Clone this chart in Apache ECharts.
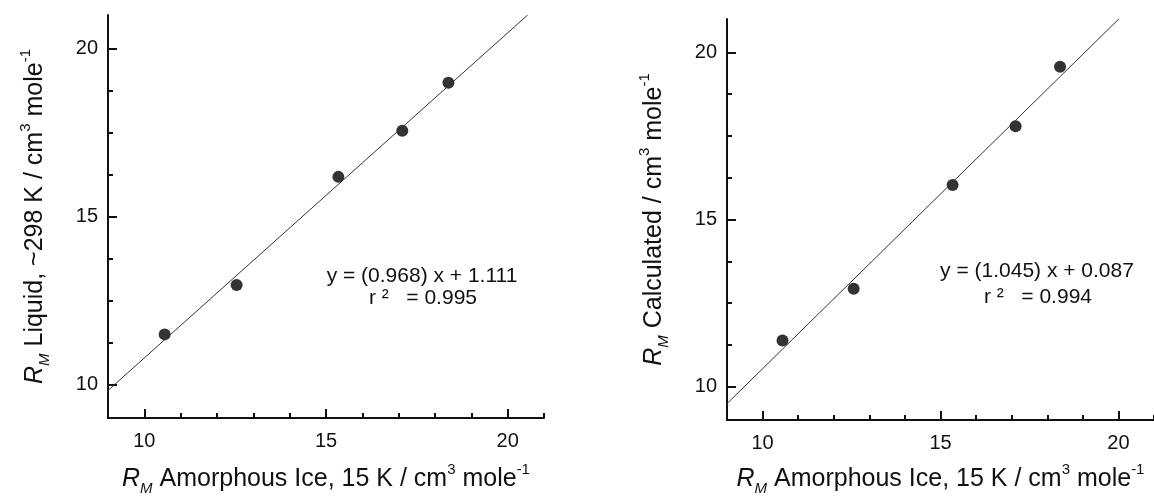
<!DOCTYPE html>
<html>
<head>
<meta charset="utf-8">
<script src="https://cdn.jsdelivr.net/npm/echarts@6/dist/echarts.min.js"></script>
<style>
  html, body { margin: 0; padding: 0; background: #fff; }
  #chart { width: 1154px; height: 501px; }
</style>
</head>
<body>
<div id="chart"></div>
<script>
// left panel: liquid vs amorphous ice
var leftX = [10.56, 12.54, 15.34, 17.10, 18.37];
var leftY = [11.49, 12.96, 16.18, 17.55, 18.98];
// right panel: calculated vs amorphous ice
var rightX = [10.56, 12.56, 15.34, 17.11, 18.36];
var rightY = [11.38, 12.93, 16.03, 17.79, 19.57];

// fitted lines, end points
var leftFit = [[9, 9.82], [20.55, 21]];
var rightFit = [[9, 9.49], [20.01, 21]];

var majorTicks = [10, 15, 20];
var xMinorTicks = [11, 12, 13, 14, 16, 17, 18, 19, 21];
var yMinorTicks = [11.25, 12.5, 13.75, 16.25, 17.5, 18.75];

var leftEq = ['y = (0.968) x + 1.111', 'r \u00b2   = 0.995'];
var rightEq = ['y = (1.045) x + 0.087', 'r \u00b2   = 0.994'];

var font = '"Liberation Sans", Arial, sans-serif';
var ink = '#111';

function pairs(xs, ys) {
    var out = [];
    for (var i = 0; i < xs.length; i++) {
        out.push([xs[i], ys[i]]);
    }
    return out;
}

var richTitle = {
    i: { fontStyle: 'italic', fontSize: 25, fontFamily: font, color: ink, lineHeight: 34 },
    sub: { fontStyle: 'italic', fontSize: 15, fontFamily: font, color: ink, verticalAlign: 'bottom', lineHeight: 14 },
    sup: { fontSize: 15, fontFamily: font, color: ink, verticalAlign: 'top', lineHeight: 14 }
};

function mainAxis(dim, grid, name, gap) {
    return {
        type: 'value',
        gridIndex: grid,
        position: dim === 'x' ? 'bottom' : 'left',
        min: 9,
        max: 21,
        name: name,
        nameLocation: 'middle',
        nameGap: gap,
        nameTextStyle: { fontFamily: font, fontSize: 25, lineHeight: 34, color: ink, rich: richTitle },
        axisLine: { show: true, onZero: false, lineStyle: { color: ink, width: 2 } },
        axisTick: { show: true, inside: true, length: 9, customValues: majorTicks, lineStyle: { color: ink, width: 2 } },
        axisLabel: { show: true, customValues: majorTicks, margin: dim === 'x' ? 13 : 10, fontFamily: font, fontSize: 20, color: ink },
        splitLine: { show: false }
    };
}

function minorAxis(dim, grid, ticks) {
    return {
        type: 'value',
        gridIndex: grid,
        position: dim === 'x' ? 'bottom' : 'left',
        offset: 0,
        min: 9,
        max: 21,
        axisLine: { show: false, onZero: false },
        axisTick: { show: true, inside: true, length: 5, customValues: ticks, lineStyle: { color: ink, width: 2 } },
        axisLabel: { show: false },
        splitLine: { show: false }
    };
}

var xTitle = '{i|R}{sub|M} Amorphous Ice, 15 K / cm{sup|3} mole{sup|-1}';

var option = {
    backgroundColor: '#fff',
    animation: false,
    grid: [
        { left: 108, top: 15, width: 436, height: 404 },
        { left: 727, top: 19, width: 436, height: 404 }
    ],
    xAxis: [
        mainAxis('x', 0, xTitle, 44),
        minorAxis('x', 0, xMinorTicks),
        mainAxis('x', 1, xTitle, 42),
        minorAxis('x', 1, xMinorTicks)
    ],
    yAxis: [
        mainAxis('y', 0, '{i|R}{sub|M} Liquid, ~298 K / cm{sup|3} mole{sup|-1}', 56),
        minorAxis('y', 0, yMinorTicks),
        mainAxis('y', 1, '{i|R}{sub|M} Calculated / cm{sup|3} mole{sup|-1}', 56),
        minorAxis('y', 1, yMinorTicks)
    ],
    series: [
        {
            type: 'line',
            xAxisIndex: 0, yAxisIndex: 0,
            data: leftFit,
            showSymbol: false,
            clip: true,
            lineStyle: { color: '#333', width: 1 }
        },
        {
            type: 'scatter',
            xAxisIndex: 0, yAxisIndex: 0,
            data: pairs(leftX, leftY),
            symbolSize: 12,
            itemStyle: { color: '#000' }
        },
        {
            type: 'line',
            xAxisIndex: 2, yAxisIndex: 2,
            data: rightFit,
            showSymbol: false,
            clip: true,
            lineStyle: { color: '#333', width: 1 }
        },
        {
            type: 'scatter',
            xAxisIndex: 2, yAxisIndex: 2,
            data: pairs(rightX, rightY),
            symbolSize: 12,
            itemStyle: { color: '#000' }
        }
    ],
    graphic: [
        { type: 'text', x: 422, y: 276, style: { text: leftEq[0], align: 'center', verticalAlign: 'middle', font: '21px ' + font, fill: ink } },
        { type: 'text', x: 423, y: 298, style: { text: leftEq[1], align: 'center', verticalAlign: 'middle', font: '21px ' + font, fill: ink } },
        { type: 'text', x: 1037, y: 271, style: { text: rightEq[0], align: 'center', verticalAlign: 'middle', font: '21px ' + font, fill: ink } },
        { type: 'text', x: 1038, y: 297, style: { text: rightEq[1], align: 'center', verticalAlign: 'middle', font: '21px ' + font, fill: ink } }
    ]
};

var chartDom = document.getElementById('chart');
var chart = echarts.init(chartDom);
chart.setOption(option);
</script>
</body>
</html>
